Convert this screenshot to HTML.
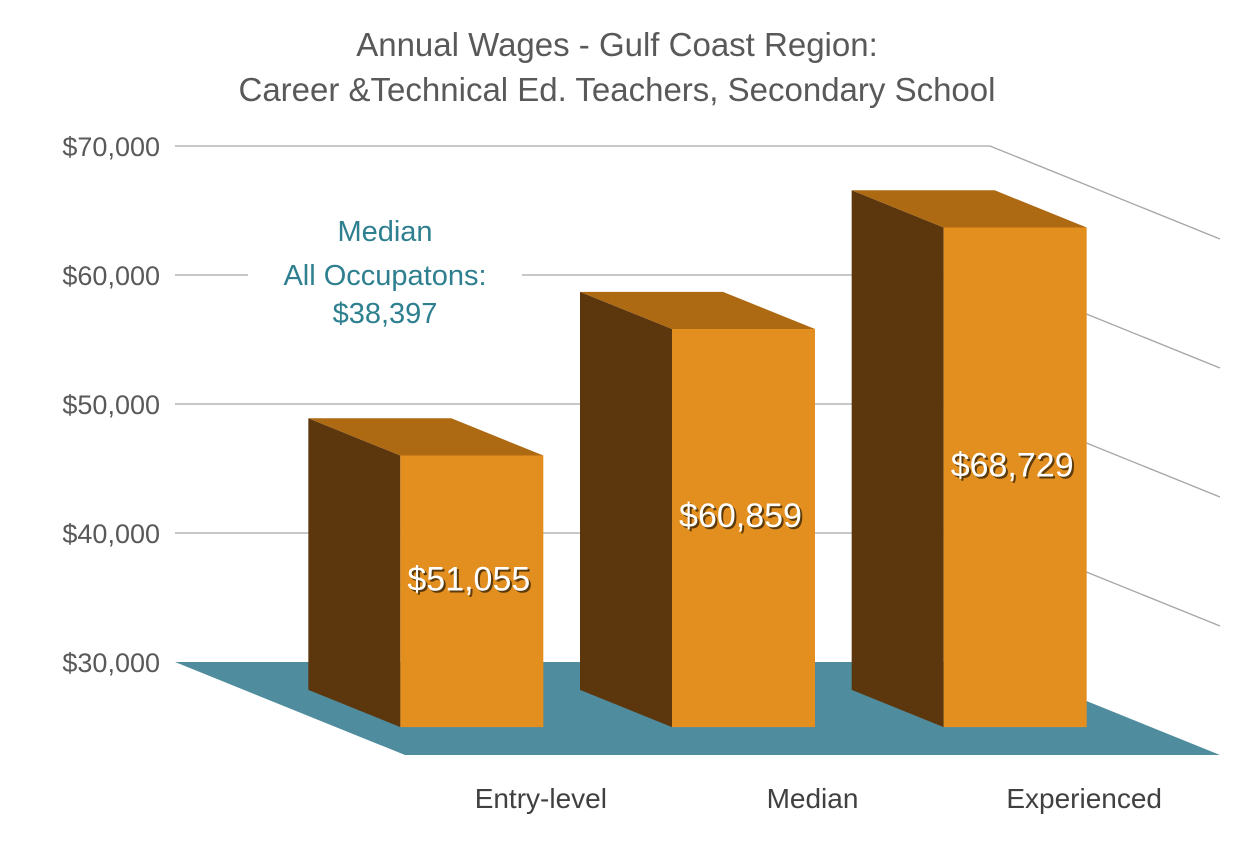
<!DOCTYPE html>
<html><head><meta charset="utf-8">
<style>
html,body{margin:0;padding:0;background:#fff;}
svg{display:block;font-family:"Liberation Sans",sans-serif;}
</style></head>
<body>
<svg id="chart" width="1235" height="861" viewBox="0 0 1235 861" xmlns="http://www.w3.org/2000/svg">
<text x="617" y="56" text-anchor="middle" font-size="33" fill="#595959">Annual Wages - Gulf Coast Region:</text>
<text x="617" y="101" text-anchor="middle" font-size="33" fill="#595959">Career &amp;Technical Ed. Teachers, Secondary School</text>
<g id="grid"></g>
<g id="floor"></g>
<g id="annot">
<text x="385" y="241" text-anchor="middle" font-size="29" fill="#2E7F8F">Median</text>
<text x="385" y="285" text-anchor="middle" font-size="29" fill="#2E7F8F">All Occupatons:</text>
<text x="385" y="323" text-anchor="middle" font-size="29" fill="#2E7F8F">$38,397</text>
</g>
<g id="bars"></g>
<g id="xlabels"></g>
</svg>
<script>
const categories = ["Entry-level", "Median", "Experienced"];
const values = [51055, 60859, 68729];
const valueLabels = ["$51,055", "$60,859", "$68,729"];
const yTicks = [30000, 40000, 50000, 60000, 70000];
const yTickLabels = ["$30,000", "$40,000", "$50,000", "$60,000", "$70,000"];

const NS = "http://www.w3.org/2000/svg";
const X0 = 175, X1 = 990, Y0 = 662, DX = 230, DY = 93;
const yMin = 30000, yMax = 70000;
function yScale(v){ return Y0 - (v - yMin) / (yMax - yMin) * (Y0 - 146); }
const catW = (X1 - X0) / categories.length;
const barW = 143;
function mk(tag, attrs, parent){
  const e = document.createElementNS(NS, tag);
  for (const k in attrs) e.setAttribute(k, attrs[k]);
  parent.appendChild(e); return e;
}
const grid = document.getElementById("grid");
yTicks.forEach((t, i) => {
  const y = yScale(t);
  if (i > 0) {
    const l = mk("polyline", {points: `${X0},${y} ${X1},${y} ${X1+DX},${y+DY}`, fill: "none", stroke: "#A6A6A6", "stroke-width": 1.3}, grid);
    
    
  }
  const tx = mk("text", {x: 160, y: y + 10, "text-anchor": "end", "font-size": 27, fill: "#595959"}, grid);
  tx.textContent = yTickLabels[i];
  
  
});
// cover gridline behind annotation
const cov = mk("rect", {x: 248, y: 265, width: 274, height: 20, fill: "#fff"}, grid);
const floor = document.getElementById("floor");
const fl = mk("polygon", {points: `${X0},${Y0} ${X1},${Y0} ${X1+DX},${Y0+DY} ${X0+DX},${Y0+DY}`, fill: "#4F8C9E"}, floor);



const bars = document.getElementById("bars");
const xl = document.getElementById("xlabels");
const d1 = 0.3, d2 = 0.7;
categories.forEach((c, i) => {
  const bx = X0 + catW * i + (catW - barW) / 2;
  const yt = yScale(values[i]);
  const g = mk("g", {}, bars);
  
  
  const bxL = bx + DX*d1, bxF = bx + DX*d2;
  const ytB = yt + DY*d1, ytF = yt + DY*d2;
  const ybB = Y0 + DY*d1, ybF = Y0 + DY*d2;
  mk("polygon", {points: `${bxL},${ytB} ${bxF},${ytF} ${bxF},${ybF} ${bxL},${ybB}`, fill: "#5C360C"}, g);
  mk("polygon", {points: `${bxL},${ytB} ${bxL+barW},${ytB} ${bxF+barW},${ytF} ${bxF},${ytF}`, fill: "#AE6913"}, g);
  mk("rect", {x: bxF, y: ytF, width: barW, height: ybF - ytF, fill: "#E38F1F"}, g);
  const ly = (ytF + ybF) / 2 - 1;
  const sh = mk("text", {x: bxF + barW/2 - 1, y: ly + 2, "text-anchor": "middle", "font-size": 34, fill: "#3a2508", opacity: 0.8}, g);
  sh.textContent = valueLabels[i];
  const t = mk("text", {x: bxF + barW/2 - 3, y: ly, "text-anchor": "middle", "font-size": 34, fill: "#fff"}, g);
  t.textContent = valueLabels[i];
  
  
  const xt = mk("text", {x: bx + barW/2 + DX, y: 808, "text-anchor": "middle", "font-size": 28, fill: "#404040"}, xl);
  xt.textContent = c;
  
  
});
</script>
</body></html>
